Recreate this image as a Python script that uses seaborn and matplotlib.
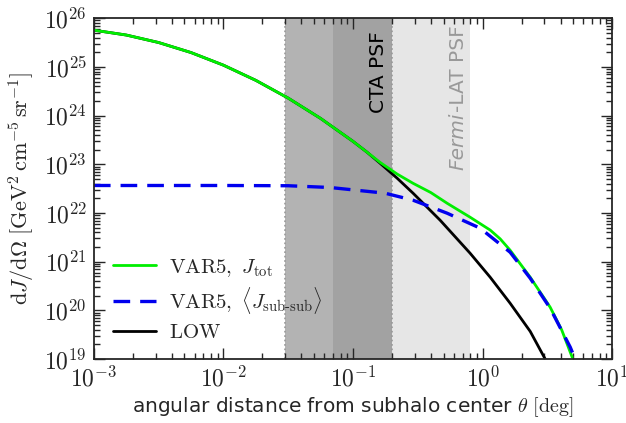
import numpy as np
import pandas as pd
import matplotlib
matplotlib.use("Agg")
import matplotlib.pyplot as plt
from matplotlib.ticker import LogLocator, FuncFormatter, NullFormatter
import seaborn as sns

# ── DATA (log10 values) ───────────────────────────────────────────────────────
tot_logx = [-3.000, -2.750, -2.500, -2.250, -2.000, -1.750, -1.500, -1.250,
            -1.000, -0.892, -0.792, -0.660, -0.537, -0.400, -0.274, -0.097,
            0.058, 0.135, 0.212, 0.367, 0.521, 0.610, 0.691]
tot_logy = [25.754, 25.654, 25.500, 25.294, 25.035, 24.723, 24.358, 23.941,
            23.470, 23.248, 23.040, 22.800, 22.610, 22.420, 22.200, 21.914,
            21.650, 21.470, 21.236, 20.682, 20.066, 19.600, 19.039]

sub_logx = [-3.000, -2.000, -1.500, -1.178, -0.753, -0.537, -0.274, -0.019,
            0.212, 0.367, 0.521, 0.676, 0.714]
sub_logy = [22.565, 22.565, 22.560, 22.524, 22.407, 22.263, 21.996, 21.688,
            21.195, 20.661, 20.045, 19.245, 19.000]

low_logx = [-3.000, -2.750, -2.500, -2.250, -2.000, -1.750, -1.500, -1.250,
            -1.000, -0.892, -0.792, -0.660, -0.537, -0.328, -0.097, 0.058,
            0.212, 0.367, 0.483]
low_logy = [25.754, 25.654, 25.500, 25.294, 25.035, 24.723, 24.358, 23.941,
            23.470, 23.248, 23.023, 22.715, 22.407, 21.852, 21.175, 20.682,
            20.148, 19.570, 19.000]

# PSF bands [deg]
fermi_band = (0.03, 0.8)
cta_band_a = (0.03, 0.07)
cta_band_b = (0.07, 0.2)

labels = [r"$\mathrm{VAR5,}\ J_\mathrm{tot}$",
          r"$\mathrm{VAR5,}\ \langle J_{\mathrm{sub}\text{-}\mathrm{sub}}\rangle$",
          r"$\mathrm{LOW}$"]

# ── STYLE ─────────────────────────────────────────────────────────────────────
sns.set_style("ticks")
plt.rcParams["font.family"] = ["DejaVu Sans"]
plt.rcParams["mathtext.fontset"] = "cm"

fig = plt.figure(figsize=(6.26, 4.23), dpi=100)
ax = fig.add_axes([0.150, 0.151, 0.828, 0.806])

# shaded PSF regions
ax.axvspan(*fermi_band, color="#e6e6e6", lw=0, zorder=0)
ax.axvspan(*cta_band_a, color="#b3b3b3", lw=0, zorder=0.1)
ax.axvspan(*cta_band_b, color="#a2a2a2", lw=0, zorder=0.1)
for xv in (cta_band_a[0], cta_band_b[1]):
    ax.axvline(xv, color="#999999", ls=":", lw=1.2, zorder=0.2)

df_tot = pd.DataFrame({"x": 10 ** np.array(tot_logx), "y": 10 ** np.array(tot_logy)})
df_sub = pd.DataFrame({"x": 10 ** np.array(sub_logx), "y": 10 ** np.array(sub_logy)})
df_low = pd.DataFrame({"x": 10 ** np.array(low_logx), "y": 10 ** np.array(low_logy)})

# draw order: black underneath, green above it, blue dashes on top
sns.lineplot(data=df_tot, x="x", y="y", ax=ax, color="#00ee00", lw=2,
             label=labels[0], sort=False, zorder=4)
sns.lineplot(data=df_sub, x="x", y="y", ax=ax, color="#0000ee", lw=2.4,
             label=labels[1], sort=False, zorder=5)
ax.lines[-1].set_linestyle((0, (5, 3)))
sns.lineplot(data=df_low, x="x", y="y", ax=ax, color="black", lw=2,
             label=labels[2], sort=False, zorder=3)

ax.set_xscale("log")
ax.set_yscale("log")
ax.set_xlim(1e-3, 1e1)
ax.set_ylim(1e19, 1e26)

fmt = FuncFormatter(lambda v, p: r"$10^{%d}$" % round(np.log10(v)))
ax.xaxis.set_major_locator(LogLocator(base=10, numticks=20))
ax.yaxis.set_major_locator(LogLocator(base=10, numticks=20))
ax.xaxis.set_minor_locator(LogLocator(base=10, subs=np.arange(2, 10), numticks=50))
ax.yaxis.set_minor_locator(LogLocator(base=10, subs=np.arange(2, 10), numticks=50))
ax.xaxis.set_major_formatter(fmt)
ax.yaxis.set_major_formatter(fmt)
ax.xaxis.set_minor_formatter(NullFormatter())
ax.yaxis.set_minor_formatter(NullFormatter())
ax.tick_params(which="both", direction="in", top=True, right=True, width=1)
ax.tick_params(which="major", length=8, labelsize=17, pad=5)
ax.tick_params(which="minor", length=4)
for s in ax.spines.values():
    s.set_linewidth(1.3)
    s.set_zorder(6)

ax.set_xlabel(r"angular distance from subhalo center $\theta$ $[\mathrm{deg}]$",
              fontsize=14.5, labelpad=3)
ax.set_ylabel(r"$\mathrm{d}J/\mathrm{d}\Omega\ [\mathrm{GeV}^2\,\mathrm{cm}^{-5}\,\mathrm{sr}^{-1}]$",
              fontsize=16, labelpad=6)

# PSF labels
ax.text(0.156, 0.962, "CTA PSF", rotation=90, ha="center", va="top",
        fontsize=14.5, color="black", transform=ax.get_xaxis_transform(), zorder=2)
t1 = ax.text(0.647, 0.555, "Fermi", rotation=90, ha="center", va="bottom",
             fontsize=14.5, color="#999999", style="italic",
             transform=ax.get_xaxis_transform(), zorder=2)
fig.canvas.draw()
bb = t1.get_window_extent()
y_top = ax.transAxes.inverted().transform((0, bb.y1))[1]
ax.text(0.647, y_top, "-LAT PSF", rotation=90, ha="center", va="bottom",
        fontsize=14.5, color="#999999", transform=ax.get_xaxis_transform(), zorder=2)

ax.legend(loc="lower left", bbox_to_anchor=(0.0, -0.005), frameon=False,
          fontsize=15, handlelength=2.1, handletextpad=0.6, labelspacing=0.3,
          borderaxespad=0.5)

fig.savefig("out.png", dpi=100)
